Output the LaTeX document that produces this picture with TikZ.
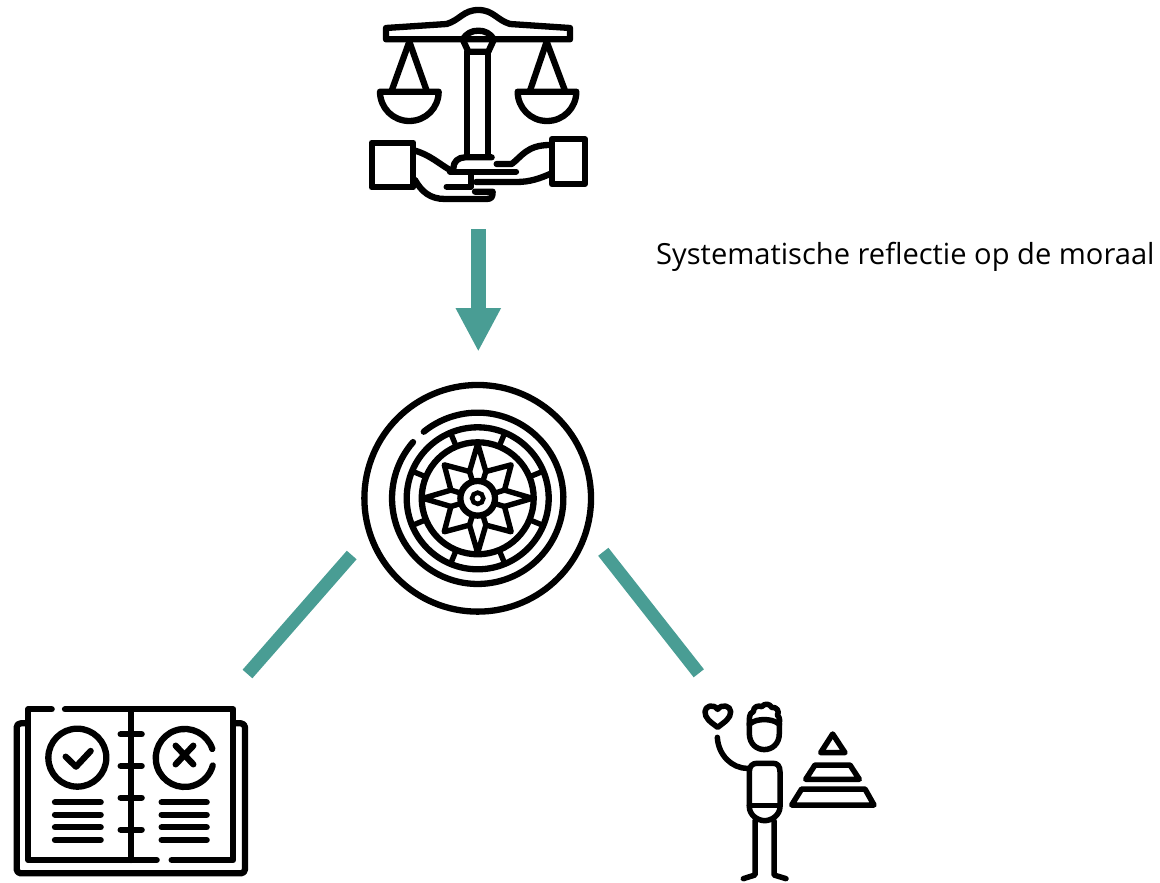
\documentclass[tikz,border=0pt]{standalone}
\usepackage{fontspec}
\setmainfont{Open Sans}
\usetikzlibrary{arrows.meta}
\definecolor{teal1}{RGB}{73,157,148}
\tikzset{
  icon/.style={line width=6.3pt,line cap=round,line join=round,draw=black},
  thinicon/.style={line width=5.4pt,line cap=round,line join=round,draw=black},
  tealline/.style={draw=teal1,line width=13pt,line cap=butt},
  tealarrow/.style={draw=teal1,line width=14.7pt,-{Triangle[length=43.5pt,width=42pt,fill=teal1]}},
  zoomy/.style={x=0.33333pt,y=-0.33333pt},
  zoomup/.style={x=0.33333pt,y=0.33333pt}
}
\begin{document}
\begin{tikzpicture}[x=1pt,y=-1pt]
\useasboundingbox (0,0) rectangle (1160,883);
% scales
\begin{scope}[shift={(350,0)},zoomy]
  \draw[icon] (108,84) -- (108,118) -- (660,118) -- (660,84) -- (480,72)
     .. controls (440,60) and (430,30) .. (385,30)
     .. controls (340,30) and (330,60) .. (290,72) -- cycle;
  \draw[icon] (338,118) .. controls (350,100) and (365,92) .. (385,92)
     .. controls (405,92) and (420,100) .. (432,118);
  \draw[icon] (338,118) -- (355,155) -- (415,155) -- (432,118);
  \draw[icon] (352,155) -- (352,470);
  \draw[icon] (415,155) -- (415,470);
  \draw[icon] (178,125) -- (125,272);
  \draw[icon] (178,125) -- (230,272);
  \draw[icon] (90,275) -- (266,275) .. controls (266,324) and (227,363) .. (178,363)
     .. controls (129,363) and (90,324) .. (90,275) -- cycle;
  \draw[icon] (590,125) -- (540,272);
  \draw[icon] (590,125) -- (645,272);
  \draw[icon] (503,275) -- (679,275) .. controls (679,324) and (640,363) .. (591,363)
     .. controls (542,363) and (503,324) .. (503,275) -- cycle;
  % cuffs
  \draw[icon] (65,428) -- (190,428) -- (190,562) -- (65,562) -- cycle;
  \draw[icon] (605,418) -- (705,418) -- (705,552) -- (605,552) -- cycle;
  % hands
  \draw[icon] (195,452) .. controls (240,465) and (265,490) .. (300,510);
  \draw[icon] (310,505) .. controls (310,485) and (325,472) .. (345,472) -- (425,472);
  \draw[icon] (300,515) -- (498,515);
  \draw[icon] (440,492) -- (485,492) .. controls (515,470) and (530,435) .. (600,435);
  \draw[icon] (195,540) .. controls (215,575) and (240,597) .. (285,597) -- (410,597)
     .. controls (425,597) and (428,590) .. (428,575) -- (375,575);
  \draw[icon] (378,546) -- (500,546) .. controls (540,546) and (570,535) .. (600,522);
  \draw[icon] (362,520) -- (362,560);
  \draw[icon] (290,560) -- (362,560);
\end{scope}
% compass
\begin{scope}[shift={(477.7,498.3)},zoomup]
  \draw[icon] (0,0) circle[radius=340];
  \draw[icon] (139:257) arc[start angle=139,end angle=489,radius=257];
  \draw[icon] (0,0) circle[radius=213];
  \draw[icon] (0,0) circle[radius=168];
  \foreach \a in {22.5,67.5,...,337.5}
    \draw[thinicon,line cap=butt] (\a:168) -- (\a:213);
  \draw[thinicon] (90:164) -- (107:84) -- (135:142) -- (163:84) -- (180:164) -- (197:84) -- (225:142)
     -- (253:84) -- (270:164) -- (287:84) -- (315:142) -- (343:84) -- (0:164) -- (17:84)
     -- (45:142) -- (73:84) -- cycle;
  \foreach \a in {17,73,107,163,197,253,287,343}
    \draw[thinicon] (\a:84) -- (\a:54);
  \draw[icon] (0,0) circle[radius=52];
  \draw[line width=4.5pt] (0,0) circle[radius=17];
\end{scope}
% book
\begin{scope}[shift={(0,695)},zoomy]
  \draw[icon,rounded corners=4pt] (80,85) -- (50,85) -- (50,535) -- (735,535) -- (735,85) -- (705,85);
  \draw[icon] (155,43) -- (85,43) -- (85,495) -- (470,495);
  \draw[icon] (515,495) -- (700,495) -- (700,43) -- (195,43);
  \draw[icon] (392,43) -- (392,495);
  \foreach \y in {118,213,308,404}
    \draw[icon] (362,\y) -- (425,\y);
  \draw[icon] (232,188) circle[radius=87];
  \draw[icon] (197,185) -- (228,215) -- (272,168);
  \draw[icon] (637,162) arc[start angle=18,end angle=345,radius=87,y radius=-87];
  \draw[icon] (527,152) -- (580,208);
  \draw[icon] (580,152) -- (527,208);
  \foreach \y in {322,359,397,435}{
    \draw[icon] (165,\y) -- (302,\y);
    \draw[icon] (485,\y) -- (620,\y);
  }
\end{scope}
% person
\begin{scope}[shift={(690,690)},zoomy]
  \draw[icon,line width=5.5pt] (83,112) .. controls (60,95) and (45,85) .. (45,65)
     .. controls (45,48) and (70,40) .. (83,58) .. controls (96,40) and (122,48) .. (122,65)
     .. controls (122,85) and (105,95) .. (83,112) -- cycle;
  \draw[icon,line width=5.5pt] (178,105) .. controls (178,85) and (176,70) .. (190,65)
     .. controls (190,50) and (205,45) .. (215,50) .. controls (225,38) and (240,42) .. (245,52)
     .. controls (260,50) and (270,65) .. (262,75) .. controls (272,85) and (268,95) .. (268,105);
  \draw[icon,line width=5.5pt] (182,100) .. controls (200,85) and (245,85) .. (264,100);
  \draw[icon,line width=5.5pt] (178,130) -- (178,100) (268,100) -- (268,130)
     .. controls (268,195) and (178,195) .. (178,130);
  \draw[icon,line width=5.5pt] (82,142) .. controls (85,195) and (125,235) .. (172,235);
  \draw[icon,line width=5.5pt] (178,350) -- (178,245) .. controls (178,228) and (188,220) .. (200,220)
     -- (250,220) .. controls (262,220) and (270,228) .. (270,245) -- (270,350)
     .. controls (270,375) and (245,392) .. (224,392) .. controls (203,392) and (178,375) .. (178,350) -- cycle;
  \draw[icon,line width=5.5pt] (178,346) -- (270,346);
  \draw[icon,line width=5.5pt] (195,392) -- (195,555) -- (160,566);
  \draw[icon,line width=5.5pt] (252,392) -- (252,555) -- (288,566);
  \draw[icon,line width=5.5pt] (428,132) -- (392,188) -- (465,188) -- cycle;
  \draw[icon,line width=5.5pt] (375,225) -- (480,225) -- (508,268) -- (347,268) -- cycle;
  \draw[icon,line width=5.5pt] (335,297) -- (525,297) -- (552,345) -- (305,345) -- cycle;
\end{scope}
% connectors
\coordinate (arrowTop) at (478.3,229);
\coordinate (arrowTip) at (478.3,351.7);
\coordinate (leftA) at (351.7,555);
\coordinate (leftB) at (247.5,674);
\coordinate (rightA) at (603.3,551.8);
\coordinate (rightB) at (698.8,673.3);
\draw[tealarrow] (arrowTop) -- (arrowTip);
\draw[tealline] (leftA) -- (leftB);
\draw[tealline] (rightA) -- (rightB);
\node[anchor=base west,inner sep=0pt,font=\fontsize{29.1}{34}\selectfont] (label) at (656,264) {Systematische reflectie op de moraal};
\end{tikzpicture}
\end{document}
